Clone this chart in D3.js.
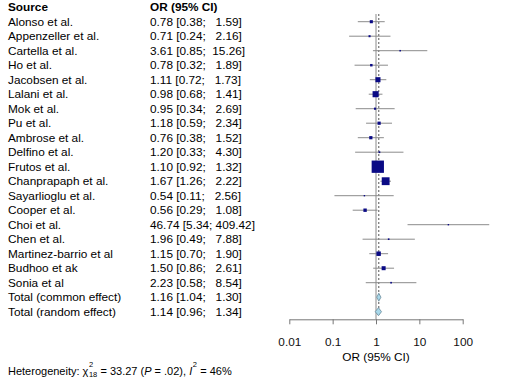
<!DOCTYPE html>
<html><head><meta charset="utf-8">
<script src="https://cdn.jsdelivr.net/npm/d3@7"></script>
<style>
html,body{margin:0;padding:0;background:#fff;}
svg{display:block;font-family:"Liberation Sans",Arial,sans-serif;}
</style></head>
<body><svg id="c" width="513" height="389"></svg>
<script>
const studies = ["Alonso et al.","Appenzeller et al.","Cartella et al.","Ho et al.","Jacobsen et al.","Lalani et al.","Mok et al.","Pu et al.","Ambrose et al.","Delfino et al.","Frutos et al.","Chanprapaph et al.","Sayarlioglu et al.","Cooper et al.","Choi et al.","Chen et al.","Martinez-barrio et al","Budhoo et ak","Sonia et al"];
const orValues = [0.78,0.71,3.61,0.78,1.11,0.98,0.95,1.18,0.76,1.20,1.10,1.67,0.54,0.56,46.74,1.96,1.15,1.50,2.23];
const lowerCI  = [0.38,0.24,0.85,0.32,0.72,0.68,0.34,0.59,0.38,0.33,0.92,1.26,0.11,0.29,5.34,0.49,0.70,0.86,0.58];
const upperCI  = [1.59,2.16,15.26,1.89,1.73,1.41,2.69,2.34,1.52,4.30,1.32,2.22,2.56,1.08,409.42,7.88,1.90,2.61,8.54];
const weights  = [2.5,1.1,0.6,1.6,6.7,9.7,1.2,2.7,2.7,0.8,39.7,16.1,0.5,3.0,0.3,0.7,5.2,4.2,0.7];
const totalLabels = ["Total (common effect)","Total (random effect)"];
const totalOR = [1.16,1.14];
const totalLo = [1.04,0.96];
const totalUp = [1.30,1.34];
const tickValues = [0.01,0.1,1,10,100];
const tickLabels = ["0.01","0.1","1","10","100"];

const svg = d3.select("#c");
const FS = 11.8;
const nRows = studies.length + totalLabels.length;
const y = d3.scaleLinear().domain([0, nRows-1]).range([21.7, 311.7]);
const x = d3.scaleLog().domain([0.01,100]).range([289.3,462.7]);
const size = d3.scaleSqrt().domain([0,39.7]).range([0,12.3]);
const axisY = 319.3;

const fmt = v => v.toFixed(2);
function ciText(e,l,u){ return fmt(e)+" ["+fmt(l)+"; "+fmt(u).padStart(6," ")+"]"; }

svg.append("text").attr("x",8).attr("y",y(-1)).attr("dy","0.35em")
  .attr("font-size",FS).attr("font-weight","bold").text("Source");
svg.append("text").attr("x",150).attr("y",y(-1)).attr("dy","0.35em")
  .attr("font-size",FS).attr("font-weight","bold").text("OR (95% CI)");

const allLabels = studies.concat(totalLabels);
const allOR = orValues.concat(totalOR), allLo = lowerCI.concat(totalLo), allUp = upperCI.concat(totalUp);

svg.append("g").selectAll("text").data(allLabels).join("text")
  .attr("x",8).attr("y",(d,i)=>y(i)).attr("dy","0.35em").attr("font-size",FS).attr("fill","#000").text(d=>d);
svg.append("g").selectAll("text").data(allLabels).join("text")
  .attr("x",150).attr("y",(d,i)=>y(i)).attr("dy","0.35em").attr("font-size",FS).attr("fill","#000")
  .style("white-space","pre").attr("xml:space","preserve")
  .text((d,i)=>ciText(allOR[i],allLo[i],allUp[i]));

svg.append("line").attr("x1",x(1)).attr("x2",x(1)).attr("y1",14).attr("y2",axisY)
  .attr("stroke","#8a8a8a").attr("stroke-width",1);
svg.append("line").attr("x1",x(totalOR[0])).attr("x2",x(totalOR[0])).attr("y1",14).attr("y2",y(studies.length+1)+3)
  .attr("stroke","#555").attr("stroke-width",1).attr("stroke-dasharray","2,2");

svg.append("g").selectAll("line").data(studies).join("line")
  .attr("x1",(d,i)=>x(lowerCI[i])).attr("x2",(d,i)=>x(upperCI[i]))
  .attr("y1",(d,i)=>y(i)).attr("y2",(d,i)=>y(i))
  .attr("stroke","#8c8c8c").attr("stroke-width",1);

svg.append("g").selectAll("rect").data(studies).join("rect")
  .attr("x",(d,i)=>x(orValues[i])-Math.max(1.4,size(weights[i]))/2)
  .attr("y",(d,i)=>y(i)-Math.max(1.4,size(weights[i]))/2)
  .attr("width",(d,i)=>Math.max(1.4,size(weights[i])))
  .attr("height",(d,i)=>Math.max(1.4,size(weights[i])))
  .attr("fill","#0a0a85");

svg.append("g").selectAll("path").data(totalLabels).join("path")
  .attr("d",(d,i)=>{const yy=y(studies.length+i), h=4;
    return `M${x(totalLo[i])},${yy}L${x(totalOR[i])},${yy-h}L${x(totalUp[i])},${yy}L${x(totalOR[i])},${yy+h}Z`;})
  .attr("fill","#a8d8ea").attr("stroke","#6a8a9a").attr("stroke-width",0.8);

const axis = d3.axisBottom(x).tickValues(tickValues).tickFormat((d,i)=>tickLabels[i])
  .tickSize(5).tickSizeOuter(0).tickPadding(13);
const ag = svg.append("g").attr("transform",`translate(0,${axisY})`).call(axis);
ag.select(".domain").attr("stroke","#777");
ag.selectAll(".tick line").attr("stroke","#777");
ag.selectAll(".tick text").attr("font-size",FS).attr("fill","#111").attr("font-family","Liberation Sans, Arial, sans-serif");
svg.append("text").attr("x",x(1)).attr("y",357).attr("dy","0.35em").attr("text-anchor","middle")
  .attr("font-size",FS).text("OR (95% CI)");

const hy = 371, HS = 11;
const het = svg.append("text").attr("x",8).attr("y",hy).attr("dy","0.35em").attr("font-size",HS).style("white-space","pre");
het.append("tspan").text("Heterogeneity: χ");
const w1 = het.node().getComputedTextLength();
svg.append("text").attr("x",8+w1+0.5).attr("y",hy-4).attr("font-size",7.5).text("2");
svg.append("text").attr("x",8+w1+0.5).attr("y",hy+6).attr("font-size",7.5).text("18");
const het2 = svg.append("text").attr("x",8+w1+9).attr("y",hy).attr("dy","0.35em").attr("font-size",HS).attr("xml:space","preserve");
het2.append("tspan").text(" = 33.27 (");
het2.append("tspan").attr("font-style","italic").text("P");
het2.append("tspan").text(" = .02), ");
het2.append("tspan").attr("font-style","italic").text("I");
const w2 = het2.node().getComputedTextLength();
svg.append("text").attr("x",8+w1+9+w2+0.5).attr("y",hy-4).attr("font-size",7.5).text("2");
svg.append("text").attr("x",8+w1+9+w2+5).attr("y",hy).attr("dy","0.35em").attr("font-size",HS).attr("xml:space","preserve").text(" = 46%");
</script></body></html>
